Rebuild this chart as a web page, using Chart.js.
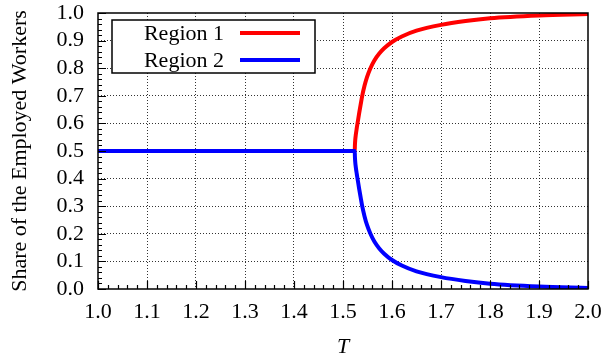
<!DOCTYPE html>
<html>
<head>
<meta charset="utf-8">
<script src="https://cdn.jsdelivr.net/npm/chart.js@4.4.0/dist/chart.umd.min.js"></script>
<style>
  html, body { margin: 0; padding: 0; background: #fff; }
  #wrap { width: 604px; height: 360px; }
</style>
</head>
<body>
<div id="wrap"><canvas id="myChart" width="604" height="360"></canvas></div>
<script>
// values
const tValues = [1.0, 1.524, 1.5243, 1.525, 1.526, 1.528, 1.53, 1.533, 1.536, 1.539, 1.544, 1.549, 1.556, 1.564, 1.574, 1.584, 1.6, 1.62, 1.65, 1.7, 1.75, 1.8, 1.9, 2.0];
const region1 = [0.5, 0.5, 0.52, 0.54, 0.557, 0.582, 0.604, 0.637, 0.668, 0.698, 0.737, 0.768, 0.8, 0.828, 0.853, 0.872, 0.895, 0.915, 0.936, 0.957, 0.971, 0.981, 0.991, 0.996];
const region2 = [0.5, 0.5, 0.48, 0.46, 0.443, 0.418, 0.396, 0.363, 0.332, 0.302, 0.263, 0.232, 0.2, 0.172, 0.147, 0.128, 0.105, 0.085, 0.064, 0.043, 0.029, 0.019, 0.009, 0.004];
const seriesLabels = ["Region 1", "Region 2"];
const xTitle = "T";
const yTitle = "Share of the Employed Workers";

const FONT = "'Liberation Serif', 'Times New Roman', serif";
Chart.defaults.font.family = FONT;
Chart.defaults.font.size = 22;
Chart.defaults.color = "#000";

const toPoints = (ys) => tValues.map((t, i) => ({ x: t, y: ys[i] }));

// box, inward tics and gnuplot-style key
const framePlugin = {
  id: "frame",
  afterDraw(chart) {
    const ctx = chart.ctx;
    const area = chart.chartArea;
    const xs = chart.scales.x;
    const ys = chart.scales.y;
    ctx.save();
    ctx.strokeStyle = "#000";
    ctx.lineWidth = 1.5;
    ctx.strokeRect(area.left, area.top, area.right - area.left, area.bottom - area.top);

    ctx.lineWidth = 1.2;
    ctx.beginPath();
    for (let i = 0; i <= 50; i++) {
      const len = i % 5 === 0 ? 8 : 4;
      const px = Math.round(xs.getPixelForValue(xs.min + i * 0.02)) + 0.5;
      ctx.moveTo(px, area.bottom);
      ctx.lineTo(px, area.bottom - len);
      const py = Math.round(ys.getPixelForValue(ys.min + i * 0.02)) + 0.5;
      ctx.moveTo(area.left, py);
      ctx.lineTo(area.left + len, py);
    }
    ctx.stroke();

    // key
    const kx = area.left + 14;
    const ky = area.top + 7;
    const kw = 203;
    const kh = 53;
    ctx.fillStyle = "#fff";
    ctx.fillRect(kx, ky, kw, kh);
    ctx.lineWidth = 1.5;
    ctx.strokeRect(kx, ky, kw, kh);
    ctx.font = "22px " + FONT;
    ctx.textAlign = "right";
    ctx.textBaseline = "middle";
    chart.data.datasets.forEach((ds, i) => {
      const rowY = ky + 13 + i * 27;
      ctx.fillStyle = "#000";
      ctx.fillText(seriesLabels[i], kx + 112, rowY + 1);
      ctx.strokeStyle = ds.borderColor;
      ctx.lineWidth = 4;
      ctx.beginPath();
      ctx.moveTo(kx + 128, rowY);
      ctx.lineTo(kx + 188, rowY);
      ctx.stroke();
    });
    ctx.restore();
  },
};

const chartData = {
  datasets: [
    {
      label: seriesLabels[0],
      data: toPoints(region1),
      borderColor: "#ff0000",
      backgroundColor: "#ff0000",
      borderWidth: 4,
      pointRadius: 0,
      cubicInterpolationMode: "monotone",
      order: 1,
    },
    {
      label: seriesLabels[1],
      data: toPoints(region2),
      borderColor: "#0000ff",
      backgroundColor: "#0000ff",
      borderWidth: 4,
      pointRadius: 0,
      cubicInterpolationMode: "monotone",
      order: 0,
    },
  ],
};

const gridColor = (lo, hi) => (c) =>
  c.tick.value <= lo || c.tick.value >= hi ? "transparent" : "rgba(0,0,0,0.8)";

const config = {
  type: "line",
  data: chartData,
  options: {
    responsive: false,
    animation: false,
    layout: { padding: { top: 13, right: 16, left: 0, bottom: 0 } },
    plugins: {
      legend: { display: false },
      tooltip: { enabled: false },
    },
    scales: {
      x: {
        type: "linear",
        min: 1.0,
        max: 2.0,
        border: { display: false, dash: [1, 2] },
        grid: {
          drawTicks: false,
          color: gridColor(1.0, 2.0),
          lineWidth: 1,
        },
        ticks: {
          stepSize: 0.1,
          autoSkip: false,
          maxRotation: 0,
          padding: 10,
          color: "#000",
          font: { family: FONT, size: 22 },
          callback: (v) => v.toFixed(1),
        },
        title: {
          display: true,
          text: xTitle,
          color: "#000",
          font: { family: FONT, size: 22, style: "italic" },
          padding: { top: 0, bottom: 0 },
        },
        afterFit: (scale) => {
          scale.height = 71;
          scale.paddingLeft = 0;
          scale.paddingRight = 0;
        },
      },
      y: {
        min: 0,
        max: 1.0,
        border: { display: false, dash: [1, 2] },
        grid: {
          drawTicks: false,
          color: gridColor(0, 1.0),
          lineWidth: 1,
        },
        ticks: {
          stepSize: 0.1,
          autoSkip: false,
          padding: 14,
          color: "#000",
          font: { family: FONT, size: 22 },
          callback: (v) => v.toFixed(1),
        },
        title: {
          display: true,
          text: yTitle,
          color: "#000",
          font: { family: FONT, size: 22 },
          padding: { top: 7, bottom: 0 },
        },
        afterFit: (scale) => {
          scale.width = 98;
          scale.paddingTop = 0;
          scale.paddingBottom = 0;
        },
      },
    },
  },
  plugins: [framePlugin],
};

const ctx = document.getElementById("myChart").getContext("2d");
const myChart = new Chart(ctx, config);
</script>
</body>
</html>
